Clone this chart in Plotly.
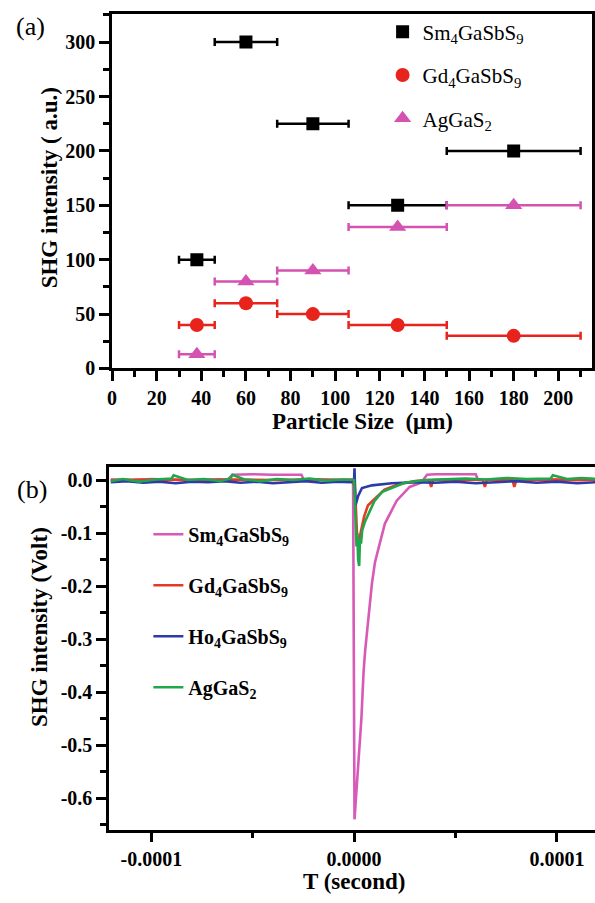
import plotly.graph_objects as go

# ---------------- Panel (a): SHG intensity vs. particle size ----------------
size_mid = [38, 60, 90, 128, 180]          # particle size (um), bin centre
size_lo = [30, 46, 74, 106, 150]           # bin lower edge
size_hi = [46, 74, 106, 150, 210]          # bin upper edge
shg_sm = [100, 300, 225, 150, 200]         # Sm4GaSbS9
shg_gd = [40, 60, 50, 40, 30]              # Gd4GaSbS9
shg_ag = [13, 80, 90, 130, 150]            # AgGaS2

# ---------------- Panel (b): oscilloscope SHG traces ----------------
# time in microseconds, signal in volts
t_sm = [-120, -110, -100, -90, -80, -70, -62, -60, -50, -40, -30, -26, -25, -15, -8, -2,
        -0.5, 0.2, 1.5, 3.6, 4.7, 5.5, 8.8, 10.3, 12.1, 15.2, 21, 27.4, 33, 36, 40, 50,
        60, 61, 70, 80, 90, 100, 110, 120]
v_sm = [0.001, 0.000, 0.002, 0.001, 0.000, 0.001, 0.002, 0.010, 0.011, 0.010, 0.011, 0.010,
        0.002, 0.001, 0.000, 0.001, 0.001, -0.640, -0.570, -0.450, -0.360, -0.320, -0.195,
        -0.155, -0.128, -0.082, -0.039, -0.013, -0.005, 0.010, 0.011, 0.011, 0.011, 0.001,
        0.000, 0.001, 0.000, 0.001, 0.000, 0.001]

t_gd = [-120, -100, -80, -60, -40, -20, -2, 0.3, 0.8, 1.4, 2.2, 3.2, 5.0, 6.8, 10, 15, 22,
        30, 37, 38, 39, 50, 63.5, 64.5, 65.5, 78, 79, 80, 95, 110, 120]
v_gd = [0.000, 0.001, 0.000, 0.001, 0.000, 0.001, 0.000, -0.010, -0.045, -0.100, -0.125,
        -0.100, -0.068, -0.048, -0.036, -0.018, -0.008, -0.002, 0.000, -0.013, 0.000, 0.001,
        0.000, -0.013, 0.000, 0.001, -0.013, 0.000, 0.001, 0.000, 0.001]

t_ho = [-120, -112, -104, -96, -88, -80, -72, -64, -56, -48, -40, -32, -24, -16, -8, -2, 0,
        0.2, 0.7, 2, 3.9, 8.8, 18.6, 30, 40, 50, 60, 70, 80, 90, 100, 110, 120]
v_ho = [-0.004, -0.002, -0.005, -0.003, -0.006, -0.003, -0.004, -0.002, -0.005, -0.003,
        -0.006, -0.004, -0.002, -0.005, -0.003, -0.004, 0.000, 0.022, -0.048, -0.030,
        -0.015, -0.010, -0.006, -0.004, -0.005, -0.003, -0.006, -0.004, -0.002, -0.005,
        -0.003, -0.006, -0.004]

t_ag = [-120, -114, -106, -98, -90, -89, -82, -74, -66, -61, -60, -54, -46, -38, -30, -22,
        -14, -6, 0, 0.5, 1.2, 1.6, 2.0, 2.5, 2.9, 3.4, 4.0, 5.4, 8, 10, 13.9, 20, 25, 35, 45,
        55, 65, 75, 85, 97, 98, 105, 112, 120]
v_ag = [-0.002, 0.002, -0.003, 0.001, 0.003, 0.009, 0.000, 0.002, -0.002, 0.003, 0.010,
        0.001, -0.002, 0.002, 0.000, 0.003, -0.001, 0.001, 0.000, -0.050, -0.125, -0.100,
        -0.150, -0.162, -0.110, -0.120, -0.095, -0.078, -0.055, -0.040, -0.022, -0.012,
        -0.005, 0.000, 0.002, 0.003, 0.001, 0.004, 0.002, 0.003, 0.009, 0.002, 0.004, 0.002]

ytick_b = [0.0, -0.1, -0.2, -0.3, -0.4, -0.5, -0.6]
xtick_b = [-0.0001, 0.0, 0.0001]
xtick_b_text = ["-0.0001", "0.0000", "0.0001"]

SERIF = "Liberation Serif"
BLACK = "black"
PINK_A = "#d452b0"
RED_A = "#e8231c"
PINK_B = "#d859b6"
RED_B = "#e53a24"
BLUE_B = "#2b3ca8"
GREEN_B = "#22a64b"

fig = go.Figure()

# panel (a) scatter with horizontal bin-width bars
for i, (name, vals, color, symbol, msize) in enumerate([
    ("Sm<sub>4</sub>GaSbS<sub>9</sub>", shg_sm, BLACK, "square", 13),
    ("Gd<sub>4</sub>GaSbS<sub>9</sub>", shg_gd, RED_A, "circle", 14),
    ("AgGaS<sub>2</sub>", shg_ag, PINK_A, "triangle-up", 15),
]):
    fig.add_trace(go.Scatter(
        x=size_mid, y=vals, mode="markers", name=name,
        marker=dict(symbol=symbol, size=msize, color=color, line=dict(width=0)),
        error_x=dict(type="data", symmetric=False,
                     array=[h - m for h, m in zip(size_hi, size_mid)],
                     arrayminus=[m - l for m, l in zip(size_mid, size_lo)],
                     color=color, thickness=2.5, width=4),
        legendgroup=f"a{i}",
        xaxis="x", yaxis="y", legend="legend",
    ))

# panel (b) time traces
us = 1e-6
for i, (name, tt, vv, color) in enumerate([
    ("Sm<sub>4</sub>GaSbS<sub>9</sub>", t_sm, v_sm, PINK_B),
    ("Gd<sub>4</sub>GaSbS<sub>9</sub>", t_gd, v_gd, RED_B),
    ("Ho<sub>4</sub>GaSbS<sub>9</sub>", t_ho, v_ho, BLUE_B),
    ("AgGaS<sub>2</sub>", t_ag, v_ag, GREEN_B),
]):
    fig.add_trace(go.Scatter(
        x=[t * us for t in tt], y=vv, mode="lines", name=name,
        line=dict(color=color, width=2.6),
        legendgroup=f"b{i}",
        xaxis="x2", yaxis="y2", legend="legend2",
    ))

tickfont = dict(family=SERIF, size=20, color=BLACK, weight="bold")
axis_common = dict(showline=True, linewidth=2.5, linecolor=BLACK, ticks="outside",
                   ticklen=10, tickwidth=2.5, tickcolor=BLACK, showgrid=False,
                   zeroline=False, tickfont=tickfont)

fig.update_layout(
    width=595, height=903, margin=dict(l=0, r=0, t=0, b=0),
    paper_bgcolor="white", plot_bgcolor="white",
    xaxis=dict(domain=[0.1815, 0.9945], anchor="y", range=[0, 215], tick0=0, dtick=20,
               mirror=True,
               minor=dict(tick0=0, dtick=10, ticks="outside", ticklen=6, tickwidth=2.5,
                          tickcolor=BLACK),
               **axis_common),
    yaxis=dict(domain=[0.5869, 0.9845], anchor="x", range=[0, 326], tick0=0, dtick=50,
               mirror=True,
               minor=dict(tick0=0, dtick=25, ticks="outside", ticklen=6, tickwidth=2.5,
                          tickcolor=BLACK),
               **axis_common),
    xaxis2=dict(domain=[0.1765, 1.0], anchor="y2", range=[-1.208e-4, 1.188e-4],
                tickmode="array", tickvals=xtick_b, ticktext=xtick_b_text, mirror=True,
                minor=dict(tickmode="array", tickvals=[-5e-5, 5e-5], ticks="outside",
                           ticklen=6, tickwidth=2.5, tickcolor=BLACK),
                **axis_common),
    yaxis2=dict(domain=[0.0698, 0.4762], anchor="x2", range=[-0.6596, 0.0242],
                tickmode="array", tickvals=ytick_b, ticktext=[f"{v:.1f}" for v in ytick_b],
                minor=dict(tickmode="linear", tick0=0, dtick=0.05, ticks="outside",
                           ticklen=6, tickwidth=2.5, tickcolor=BLACK),
                **axis_common),
    legend=dict(x=0.64, y=0.987, xanchor="left", yanchor="top", bgcolor="rgba(0,0,0,0)",
                font=dict(family=SERIF, size=21, color=BLACK), itemwidth=30,
                traceorder="grouped", tracegroupgap=13),
    legend2=dict(x=0.243, y=0.423, xanchor="left", yanchor="top", bgcolor="rgba(0,0,0,0)",
                 font=dict(family=SERIF, size=20, color=BLACK, weight="bold"), itemwidth=30,
                 traceorder="grouped", tracegroupgap=22),
    showlegend=True,
)

title_font = dict(family=SERIF, size=23, color=BLACK, weight="bold")
annotations = [
    dict(text="(a)", x=26 / 595, y=1 - 27 / 903, font=dict(family=SERIF, size=26, color=BLACK)),
    dict(text="(b)", x=27 / 595, y=1 - 496 / 903, font=dict(family=SERIF, size=26, color=BLACK)),
    dict(text="Particle Size  (μm)", x=361 / 595, y=1 - 427 / 903, font=title_font),
    dict(text="SHG intensity ( a.u.)", x=45 / 595, y=1 - 190 / 903, font=title_font,
         textangle=-90),
    dict(text="T (second)", x=352 / 595, y=1 - 892 / 903, font=title_font),
    dict(text="SHG intensity (Volt)", x=35 / 595, y=1 - 635 / 903, font=title_font,
         textangle=-90),
]
for a in annotations:
    a.update(xref="paper", yref="paper", showarrow=False, xanchor="center", yanchor="middle")
fig.update_layout(annotations=annotations)

fig.write_html("out.html")
